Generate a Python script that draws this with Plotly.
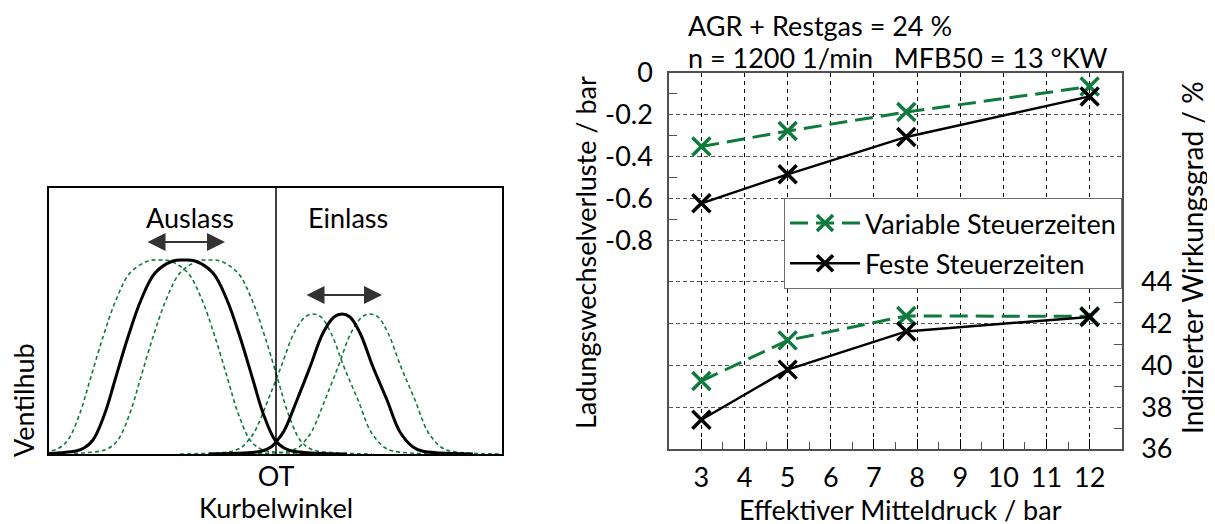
import plotly.graph_objects as go

# ---------------- data: right chart ----------------
pme = [3, 5, 7.75, 12]                          # Effektiver Mitteldruck / bar
lw_variable = [-0.352, -0.278, -0.187, -0.065]  # Ladungswechselverluste, variable Steuerzeiten
lw_fest = [-0.624, -0.485, -0.306, -0.112]      # Ladungswechselverluste, feste Steuerzeiten
eta_variable = [39.25, 41.2, 42.37, 42.35]      # Indizierter Wirkungsgrad, variable
eta_fest = [37.4, 39.8, 41.63, 42.32]           # Indizierter Wirkungsgrad, fest

x_ticks = [3, 4, 5, 6, 7, 8, 9, 10, 11, 12]
x_minor = [3.5, 4.5, 5.5, 6.5, 7.5, 8.5, 9.5, 10.5, 11.5]
lw_ticks = [0, -0.2, -0.4, -0.6, -0.8]
lw_ticktext = ["0", "-0.2", "-0.4", "-0.6", "-0.8"]
lw_minor = [-0.1, -0.3, -0.5, -0.7]
eta_ticks = [36, 38, 40, 42, 44]
eta_minor = [37, 39, 41, 43]

# ---------------- data: left schematic (Kurbelwinkel rel. OT, Ventilhub, arbitrary units) ----------------
auslass_kw = [-227, -216, -200, -192, -183, -171, -161, -148, -135, -121, -103, -92, -81,
              -63, -49, -36, -23, -13, -1, 8, 16, 32, 48, 71]
auslass_hub = [0.5, 1.3, 3, 6, 14, 41, 74, 117, 154, 181, 193, 194, 193,
               181, 154, 117, 74, 41, 14, 6, 3, 1.3, 0.5, 0]
einlass_kw = [-67, -32, -14, -5, 0, 8, 21, 34, 47, 58, 66, 74, 84, 97, 111, 124, 137, 146, 164, 197]
einlass_hub = [0, 1, 3, 7, 12, 23, 54, 87, 121, 137, 140, 137, 121, 87, 54, 22, 7, 3, 1, 0]
auslass_shifts = [-25, 25]   # verstellte Auslass-Steuerzeiten
einlass_shifts = [-29, 28]   # verstellte Einlass-Steuerzeiten

GREEN = "#0f7a3e"
FONT = "Lato"
FS = 27
W, H = 1215, 524
OFF = 8  # page body margin


def px(xp):
    return (xp - OFF) / W


def py(yp):
    return 1 - (yp - OFF) / H


fig = go.Figure()

# ---- schematic traces ----
for s in auslass_shifts:
    fig.add_trace(go.Scatter(x=[k + s for k in auslass_kw], y=auslass_hub, mode="lines",
                             line=dict(color=GREEN, width=1.6, dash="4px,3px", shape="spline"),
                             xaxis="x3", yaxis="y3", showlegend=False, hoverinfo="skip"))
for s in einlass_shifts:
    fig.add_trace(go.Scatter(x=[k + s for k in einlass_kw], y=einlass_hub, mode="lines",
                             line=dict(color=GREEN, width=1.6, dash="4px,3px", shape="spline"),
                             xaxis="x3", yaxis="y3", showlegend=False, hoverinfo="skip"))
fig.add_trace(go.Scatter(x=auslass_kw, y=auslass_hub, mode="lines",
                         line=dict(color="black", width=3, shape="spline"),
                         xaxis="x3", yaxis="y3", showlegend=False, hoverinfo="skip"))
fig.add_trace(go.Scatter(x=einlass_kw, y=einlass_hub, mode="lines",
                         line=dict(color="black", width=3, shape="spline"),
                         xaxis="x3", yaxis="y3", showlegend=False, hoverinfo="skip"))


def mark(color):
    return dict(color=color, symbol="x-thin-open", size=18, line=dict(color=color, width=3.5))


# ---- right chart traces ----
fig.add_trace(go.Scatter(x=pme, y=lw_variable, mode="lines+markers", name="Variable Steuerzeiten",
                         line=dict(color=GREEN, width=3, dash="18px,8px"), marker=mark(GREEN),
                         xaxis="x", yaxis="y", legendgroup="a"))
fig.add_trace(go.Scatter(x=pme, y=lw_fest, mode="lines+markers", name="Feste Steuerzeiten",
                         line=dict(color="black", width=2.5), marker=mark("black"),
                         xaxis="x", yaxis="y", legendgroup="b"))
fig.add_trace(go.Scatter(x=pme, y=eta_variable, mode="lines+markers", showlegend=False,
                         line=dict(color=GREEN, width=3, dash="18px,8px"), marker=mark(GREEN),
                         xaxis="x", yaxis="y2"))
fig.add_trace(go.Scatter(x=pme, y=eta_fest, mode="lines+markers", showlegend=False,
                         line=dict(color="black", width=2.5), marker=mark("black"),
                         xaxis="x", yaxis="y2"))

tickfont = dict(family=FONT, size=FS, color="black")
frame = "#505050"

fig.update_layout(
    width=W, height=H,
    margin=dict(l=0, r=0, t=0, b=0, autoexpand=False),
    paper_bgcolor="white", plot_bgcolor="white",
    font=dict(family=FONT, size=FS, color="black"),
    xaxis=dict(domain=[px(669), px(1122)], range=[2.25, 12.75], anchor="y", automargin=False,
               tickmode="array", tickvals=x_ticks, ticks="inside", ticklen=10, tickcolor="black",
               tickfont=tickfont, ticklabelstandoff=4,
               showgrid=True, gridcolor="black", gridwidth=1, griddash="4px,4px",
               showline=True, linecolor=frame, linewidth=1.5, mirror=True, zeroline=False,
               minor=dict(tickmode="array", tickvals=x_minor, ticks="inside", ticklen=7,
                          tickcolor=frame, showgrid=False)),
    yaxis=dict(domain=[py(449), py(73)], range=[-1.8, 0], anchor="x", automargin=False,
               tickmode="array", tickvals=lw_ticks, ticktext=lw_ticktext, ticks="",
               tickfont=tickfont, ticklabelstandoff=9,
               showgrid=True, gridcolor="#555555", gridwidth=1, griddash="4px,3px",
               showline=True, linecolor=frame, linewidth=1.5, mirror=True, zeroline=False,
               minor=dict(tickmode="array", tickvals=lw_minor, ticks="inside", ticklen=8,
                          tickcolor=frame, showgrid=False)),
    yaxis2=dict(overlaying="y", side="right", anchor="x", range=[36, 54], automargin=False,
                tickmode="array", tickvals=eta_ticks, ticks="",
                tickfont=tickfont, ticklabelstandoff=12,
                showgrid=True, gridcolor="#555555", gridwidth=1, griddash="4px,3px",
                showline=True, linecolor=frame, linewidth=1.5, zeroline=False,
                minor=dict(tickmode="array", tickvals=eta_minor, ticks="inside", ticklen=8,
                           tickcolor=frame, showgrid=False)),
    xaxis3=dict(domain=[px(49), px(502)], range=[-227, 226], anchor="y3", automargin=False,
                tickmode="array", tickvals=[0], ticktext=["OT"], ticks="",
                tickfont=tickfont, ticklabelstandoff=-2,
                showgrid=False, zeroline=False, showline=True, linecolor="black",
                linewidth=1.5, mirror=True),
    yaxis3=dict(domain=[py(454), py(188)], range=[0, 266], anchor="x3", automargin=False,
                showticklabels=False, ticks="", showgrid=False, zeroline=False,
                showline=True, linecolor="black", linewidth=1.5, mirror=True),
    legend=dict(x=px(1122), xanchor="right", y=py(198), yanchor="top",
                bgcolor="white", bordercolor="#707070", borderwidth=1,
                font=dict(family=FONT, size=FS, color="black"),
                traceorder="grouped", tracegroupgap=2, itemwidth=70),
    showlegend=True,
)

# OT line
fig.add_shape(type="line", xref="x3", yref="y3", x0=0, x1=0, y0=0, y1=266,
              line=dict(color="black", width=1.5))

ann = []
# schematic labels and arrows
ann.append(dict(text="Auslass", x=-86, y=237, xref="x3", yref="y3", showarrow=False, font=tickfont,
                xanchor="center", yanchor="middle"))
ann.append(dict(text="Einlass", x=72, y=237, xref="x3", yref="y3", showarrow=False, font=tickfont,
                xanchor="center", yanchor="middle"))
for (x0, x1, yy) in [(-130, -51, 212), (29, 106, 159)]:
    ann.append(dict(x=x1, y=yy, ax=x0, ay=yy, xref="x3", yref="y3", axref="x3", ayref="y3",
                    text="", showarrow=True, arrowhead=2, arrowside="end+start",
                    arrowsize=2.0, arrowwidth=1.8, arrowcolor="#333333"))
ann.append(dict(text="Ventilhub", x=px(23), y=py(400), xref="paper", yref="paper",
                showarrow=False, textangle=-90, font=tickfont, xanchor="center", yanchor="middle"))
ann.append(dict(text="Kurbelwinkel", x=px(276), y=py(507), xref="paper", yref="paper",
                showarrow=False, font=tickfont, xanchor="center", yanchor="middle"))
# right chart titles
ann.append(dict(text="AGR + Restgas = 24 %", x=px(686), y=py(25), xref="paper", yref="paper",
                xanchor="left", yanchor="middle", showarrow=False, font=tickfont))
ann.append(dict(text="n = 1200 1/min   MFB50 = 13 °KW", x=px(686), y=py(58),
                xref="paper", yref="paper", xanchor="left", yanchor="middle", showarrow=False,
                font=tickfont))
ann.append(dict(text="Ladungswechselverluste / bar", x=px(585), y=py(253), xref="paper",
                yref="paper", textangle=-90, showarrow=False, font=tickfont,
                xanchor="center", yanchor="middle"))
ann.append(dict(text="Indizierter Wirkungsgrad / %", x=px(1192), y=py(258), xref="paper",
                yref="paper", textangle=-90, showarrow=False,
                font=dict(family=FONT, size=28, color="black"),
                xanchor="center", yanchor="middle"))
ann.append(dict(text="Effektiver Mitteldruck / bar", x=px(900), y=py(509), xref="paper",
                yref="paper", showarrow=False, font=tickfont, xanchor="center", yanchor="middle"))
fig.update_layout(annotations=ann)

fig.write_html("out.html")
